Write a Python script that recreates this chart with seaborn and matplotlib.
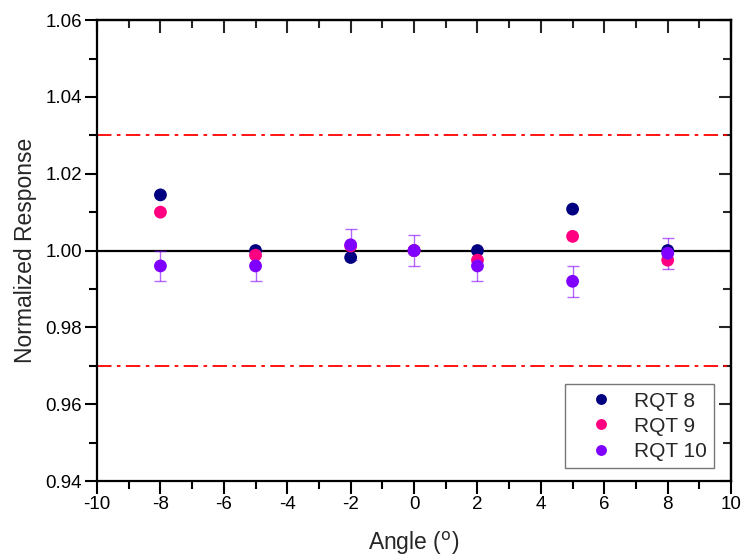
import numpy as np
import pandas as pd
import matplotlib
matplotlib.use("Agg")
import matplotlib.pyplot as plt
import seaborn as sns
from matplotlib.ticker import MultipleLocator

angles = [-8, -5, -2, 0, 2, 5, 8]
rqt8 = [1.0145, 1.0000, 0.9982, 1.0000, 1.0000, 1.0108, 1.0000]
rqt9 = [1.0100, 0.9988, 1.0012, 1.0000, 0.9975, 1.0037, 0.9975]
rqt10 = [0.9960, 0.9960, 1.0015, 1.0000, 0.9960, 0.9920, 0.9993]
rqt10_err = [0.004, 0.004, 0.004, 0.004, 0.004, 0.004, 0.004]
series_names = ["RQT 8", "RQT 9", "RQT 10"]
colors = ["#000080", "#FF0080", "#8000FF"]

df = pd.DataFrame({
    "Angle": angles * 3,
    "Response": rqt8 + rqt9 + rqt10,
    "Series": [series_names[0]] * 7 + [series_names[1]] * 7 + [series_names[2]] * 7,
})

sns.set_style("white")
plt.rcParams['font.family'] = ['Liberation Sans', 'DejaVu Sans']
plt.rcParams['axes.unicode_minus'] = False

fig = plt.figure(figsize=(7.43, 5.59), dpi=100)
ax = fig.add_axes([0.1306, 0.1395, 0.984 - 0.1306, 0.964 - 0.1395])

ax.axhline(1.03, color="red", ls=(0, (8, 3, 2, 3)), lw=1.3, zorder=1)
ax.axhline(0.97, color="red", ls=(0, (8, 3, 2, 3)), lw=1.3, zorder=1)
ax.axhline(1.00, color="black", lw=1.6, zorder=2)

ax.errorbar(angles, rqt10, yerr=rqt10_err, fmt="none", ecolor="#8000FF", alpha=0.6,
            elinewidth=1.0, capsize=4, capthick=1.0, zorder=3)

sns.scatterplot(data=df, x="Angle", y="Response", hue="Series", palette=colors,
                s=85, edgecolor="none", ax=ax, zorder=4)

ax.set_xlim(-10, 10)
ax.set_ylim(0.94, 1.06)
ax.xaxis.set_major_locator(MultipleLocator(2))
ax.xaxis.set_minor_locator(MultipleLocator(1))
ax.yaxis.set_major_locator(MultipleLocator(0.02))
ax.yaxis.set_minor_locator(MultipleLocator(0.01))
ax.yaxis.set_major_formatter(matplotlib.ticker.FormatStrFormatter("%.2f"))

for s in ax.spines.values():
    s.set_color("black")
    s.set_linewidth(1.6)

ax.tick_params(which="both", bottom=True, left=True, top=False, right=False, direction="out",
               colors="black", labelsize=13.5, pad=2)
ax.tick_params(which="major", length=9, width=1.5)
ax.tick_params(which="minor", length=6, width=1.5)
# top and right ticks point inward
sec_x = ax.secondary_xaxis("top")
sec_x.xaxis.set_major_locator(MultipleLocator(2))
sec_x.xaxis.set_minor_locator(MultipleLocator(1))
sec_x.tick_params(which="both", direction="in", labeltop=False, width=1.5)
sec_x.tick_params(which="major", length=9)
sec_x.tick_params(which="minor", length=6)
sec_x.spines["top"].set_linewidth(1.6)
sec_y = ax.secondary_yaxis("right")
sec_y.yaxis.set_major_locator(MultipleLocator(0.02))
sec_y.yaxis.set_minor_locator(MultipleLocator(0.01))
sec_y.tick_params(which="both", direction="in", labelright=False, width=1.5)
sec_y.tick_params(which="major", length=9)
sec_y.tick_params(which="minor", length=6)
sec_y.spines["right"].set_linewidth(1.6)

ax.set_xlabel("Angle ($^{\\rm o}$)", fontsize=16.5, labelpad=12)
ax.set_ylabel("Normalized Response", fontsize=16.5, labelpad=6)

leg = ax.legend(loc="lower right", fontsize=15, frameon=True, fancybox=False,
                edgecolor="#555555", handletextpad=0.25, handlelength=2.7, borderpad=0.35,
                labelspacing=0.3, bbox_to_anchor=(0.99, 0.005), markerscale=0.85)
leg.get_frame().set_linewidth(1.0)

fig.savefig("out.png", dpi=100)
